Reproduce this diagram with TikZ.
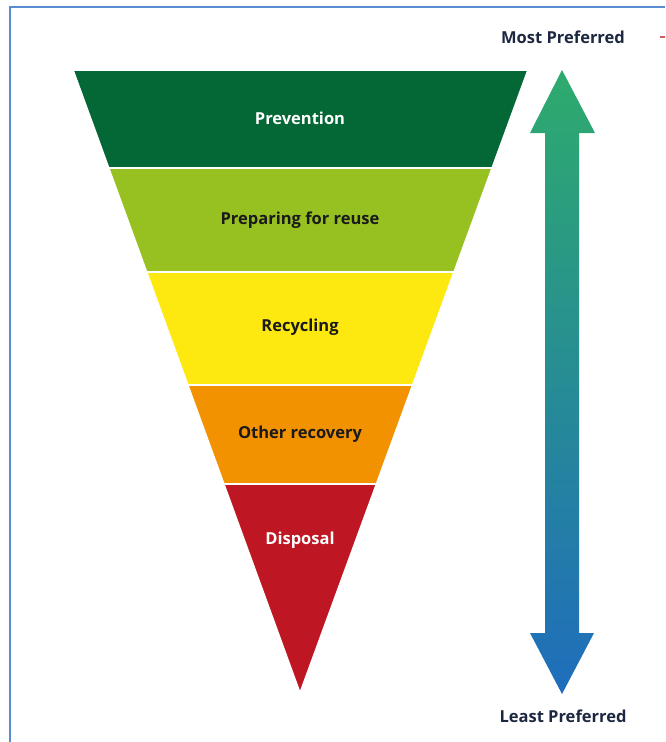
\documentclass[tikz,border=0pt]{standalone}
\usepackage{fontspec}
\setmainfont{Open Sans}
\usetikzlibrary{calc}

\definecolor{prevgreen}{HTML}{036835}
\definecolor{reusegreen}{HTML}{96C120}
\definecolor{recyyellow}{HTML}{FDE910}
\definecolor{recovorange}{HTML}{F29200}
\definecolor{disposred}{HTML}{BE1622}
\definecolor{arrowtop}{HTML}{2EAB6D}
\definecolor{arrowbot}{HTML}{1F6DBC}
\definecolor{framecol}{HTML}{5B8BD0}
\definecolor{inkcol}{HTML}{1A1A1A}
\definecolor{navycol}{HTML}{1C2740}

\tikzset{
    band/.style={draw=white, line width=1.6pt, line join=miter},
    levellabel/.style={font=\bfseries\fontsize{16.5}{19}\selectfont, text=inkcol},
    endlabel/.style={font=\bfseries\fontsize{16.5}{19}\selectfont, text=navycol},
}

\begin{document}
\begin{tikzpicture}[x=1pt, y=-1pt]
    \useasboundingbox (0,0) rectangle (665,742);

    % Frame:
    \draw [framecol, line width=1.6pt] (10,742) -- (10,7) -- (665,7);

    % Funnel corners:
    \coordinate (tl) at (73,70);
    \coordinate (tr) at (528,70);
    \coordinate (apex) at (300,693);

    % Bands, cut along the two slanted sides:
    \foreach \ta/\tb/\col in {0/0.1573/prevgreen, 0.1573/0.3242/reusegreen,
                              0.3242/0.5056/recyyellow, 0.5056/0.6645/recovorange,
                              0.6645/1/disposred} {
        \fill [band, fill=\col] ($(tl)!\ta!(apex)$) -- ($(tr)!\ta!(apex)$)
            -- ($(tr)!\tb!(apex)$) -- ($(tl)!\tb!(apex)$) -- cycle;
    }

    % Band labels:
    \node [levellabel, text=white] (prevention) at (300,118) {Prevention};
    \node [levellabel] (reuse)    at (300,220) {Preparing for reuse};
    \node [levellabel] (recycling) at (300,327) {Recycling};
    \node [levellabel] (recovery) at (300,434) {Other recovery};
    \node [levellabel, text=white] (disposal) at (300,540) {Disposal};

    % Double arrow with a green to blue fade:
    \shade [top color=arrowtop, bottom color=arrowbot]
        (562,70) -- (595,133) -- (579,133) -- (579,633) -- (594,633)
        -- (562,694) -- (530,633) -- (545,633) -- (545,133) -- (530,133) -- cycle;

    % End labels:
    \node [endlabel] (most)  at (563,37)  {Most Preferred};
    \node [endlabel] (least) at (563,716) {Least Preferred};

    % Clipped red mark:
    \draw [disposred!70!white, line width=1.2pt] (660,37) -- (665,37);
\end{tikzpicture}
\end{document}
